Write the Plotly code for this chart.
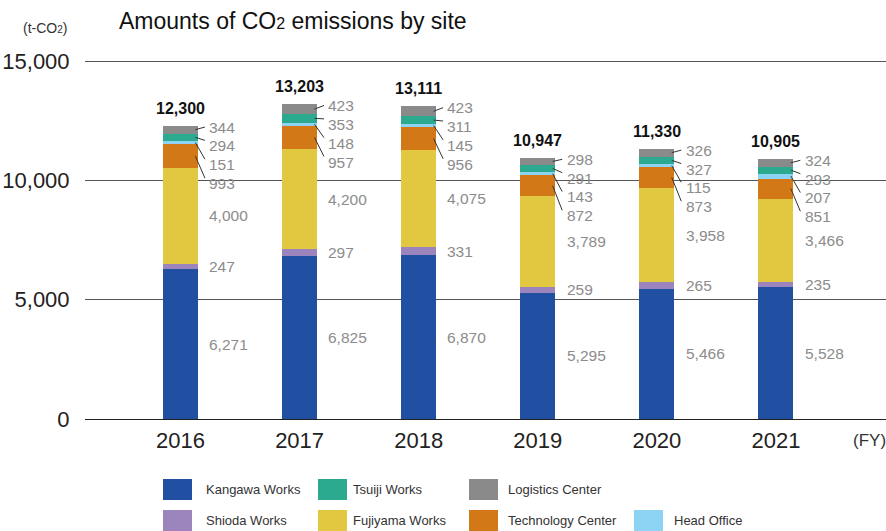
import plotly.graph_objects as go

years = ["2016", "2017", "2018", "2019", "2020", "2021"]
totals = [12300, 13203, 13111, 10947, 11330, 10905]

kangawa = [6271, 6825, 6870, 5295, 5466, 5528]
shioda = [247, 297, 331, 259, 265, 235]
fujiyama = [4000, 4200, 4075, 3789, 3958, 3466]
technology = [993, 957, 956, 872, 873, 851]
head_office = [151, 148, 145, 143, 115, 207]
tsuiji = [294, 353, 311, 291, 327, 293]
logistics = [344, 423, 423, 298, 326, 324]

series = [
    ("Kangawa Works", kangawa, "#2150A3"),
    ("Shioda Works", shioda, "#9C84BD"),
    ("Fujiyama Works", fujiyama, "#E2C841"),
    ("Technology Center", technology, "#D27817"),
    ("Head Office", head_office, "#8DD3F3"),
    ("Tsuiji Works", tsuiji, "#2BAA8F"),
    ("Logistics Center", logistics, "#8A8A8A"),
]
# legend grid (column, row)
legend_pos = {
    "Kangawa Works": (0, 0), "Tsuiji Works": (1, 0), "Logistics Center": (2, 0),
    "Shioda Works": (0, 1), "Fujiyama Works": (1, 1), "Technology Center": (2, 1),
    "Head Office": (3, 1),
}

FONT = "Liberation Sans, Arial, sans-serif"

W, H = 886, 531
ML, MR, MT, MB = 85, 0, 60, 112
PW, PH = W - ML - MR, H - MT - MB

def px(x):
    return (x - ML) / PW

def py(y):
    return (H - MB - y) / PH

xs = list(range(len(years)))
BAR_W = 0.294

fig = go.Figure()
for name, vals, col in series:
    fig.add_trace(go.Bar(x=xs, y=vals, name=name, marker=dict(color=col, line=dict(width=0)),
                         width=BAR_W, showlegend=False, hoverinfo="y+name"))

annotations = []
shapes = []
label_gray = "#8C8C8C"
LX = 0.225
LBL_SIZE = 15.5
for i in xs:
    bottoms = []
    acc = 0
    for name, vals, col in series:
        bottoms.append(acc)
        acc += vals[i]
    # big segments: label at middle
    for k in range(3):
        vals = series[k][1]
        mid = bottoms[k] + vals[i] / 2
        annotations.append(dict(x=i + LX, y=mid, xref="x", yref="y", text=f"{vals[i]:,}",
                                showarrow=False, xanchor="left", yanchor="middle",
                                font=dict(family=FONT, size=LBL_SIZE, color=label_gray)))
    # small segments: stacked labels with leader lines (top-down order)
    small = [6, 5, 4, 3]
    for j, k in enumerate(small):
        vals = series[k][1]
        mid = bottoms[k] + vals[i] / 2
        ly = totals[i] - 60 - j * 790
        annotations.append(dict(x=i + LX, y=ly, xref="x", yref="y", text=f"{vals[i]:,}",
                                showarrow=False, xanchor="left", yanchor="middle",
                                font=dict(family=FONT, size=LBL_SIZE, color=label_gray)))
        shapes.append(dict(type="line", xref="x", yref="y", x0=i + 0.125, y0=mid,
                           x1=i + 0.205, y1=ly + (0 if j == 0 else 230),
                           line=dict(color="#333333", width=1)))
    # total label
    annotations.append(dict(x=i, y=acc, xref="x", yref="y", text=f"<b>{totals[i]:,}</b>",
                            showarrow=False, xanchor="center", yanchor="bottom", yshift=7,
                            font=dict(family=FONT, size=16, color="#111111")))

# title and units
annotations.append(dict(x=px(117), y=py(21), xref="paper", yref="paper", xanchor="left", yanchor="middle",
                        text='Amounts of CO<span style="font-size:16px">2</span> emissions by site',
                        showarrow=False, font=dict(family=FONT, size=23, color="#111111")))
annotations.append(dict(x=px(21), y=py(28), xref="paper", yref="paper", xanchor="left", yanchor="middle",
                        text='(t-CO<span style="font-size:10px">2</span>)',
                        showarrow=False, font=dict(family=FONT, size=14, color="#333333")))
annotations.append(dict(x=px(869), y=py(440), xref="paper", yref="paper", xanchor="center", yanchor="middle",
                        text="(FY)", showarrow=False, font=dict(family=FONT, size=17, color="#333333")))

# manual legend
col_sw = [163, 318, 469, 634]
col_tx = [204, 351, 506, 672]
row_top = [479, 510]
SW_W, SW_H = 29, 21
for name, vals, col in series:
    c, r = legend_pos[name]
    shapes.append(dict(type="rect", xref="paper", yref="paper",
                       x0=px(col_sw[c]), x1=px(col_sw[c] + SW_W),
                       y0=py(row_top[r] + SW_H), y1=py(row_top[r]),
                       fillcolor=col, line=dict(width=0)))
    annotations.append(dict(x=px(col_tx[c]), y=py(row_top[r] + SW_H / 2), xref="paper", yref="paper",
                            xanchor="left", yanchor="middle", text=name, showarrow=False,
                            font=dict(family=FONT, size=13, color="#333333")))

fig.update_layout(
    width=W, height=H,
    margin=dict(l=ML, r=MR, t=MT, b=MB, autoexpand=False),
    barmode="stack",
    plot_bgcolor="white", paper_bgcolor="white",
    annotations=annotations, shapes=shapes,
    xaxis=dict(range=[-0.802, 5.924], tickvals=xs, ticktext=years, showgrid=False, zeroline=False,
               showline=False, ticks="outside", ticklen=2, tickcolor="rgba(0,0,0,0)", automargin=False,
               tickfont=dict(family=FONT, size=22, color="#222222"), fixedrange=True),
    yaxis=dict(range=[0, 15050], tickvals=[0, 5000, 10000, 15000], tickformat=",",
               showgrid=True, gridcolor="#555555", gridwidth=1, zeroline=True, zerolinecolor="#222222",
               zerolinewidth=1, showline=False, ticks="outside", ticklen=10, tickcolor="rgba(0,0,0,0)",
               automargin=False,
               tickfont=dict(family=FONT, size=22, color="#222222"), fixedrange=True),
    showlegend=False,
)

fig.write_html("out.html", config={"displayModeBar": False},
               post_script="document.body.style.margin='0';document.body.style.padding='0';")
